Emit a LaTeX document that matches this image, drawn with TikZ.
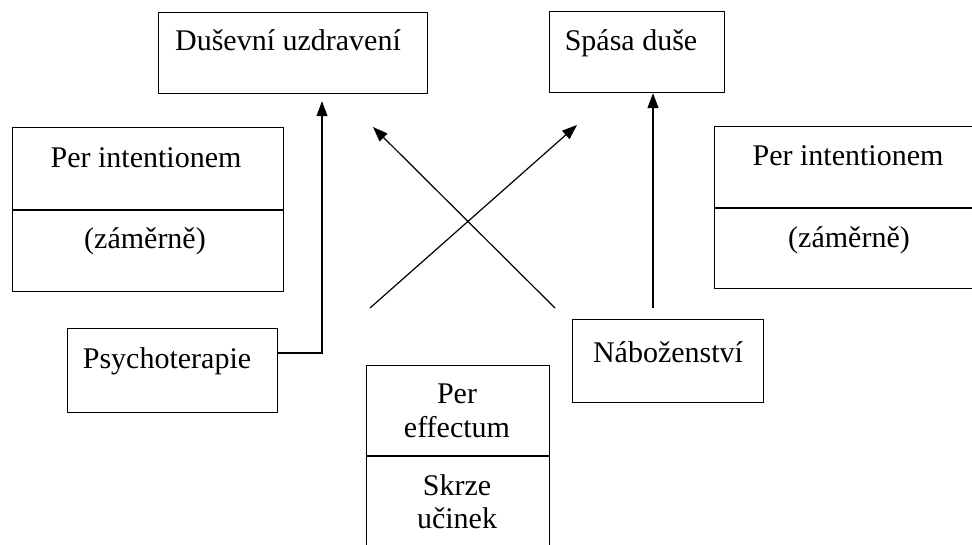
\documentclass[tikz,border=0pt]{standalone}
\usepackage{fontspec}
\setmainfont{Liberation Serif}
\usetikzlibrary{arrows.meta}
\begin{document}
\begin{tikzpicture}[x=1pt,y=-1pt,
  box/.style={draw, line width=1.2pt, rectangle, inner sep=0pt, anchor=north west},
  lbl/.style={anchor=base, inner sep=0pt, font=\fontsize{30}{34}\selectfont},
  divline/.style={line width=1.2pt},
  conn/.style={line width=1.2pt, -{Triangle[width=11pt,length=15pt]}}]
\useasboundingbox (0,0) rectangle (972,544);

% boxes
\node[box, minimum width=269pt, minimum height=81pt] (dus) at (158,12) {};
\node[box, minimum width=175pt, minimum height=81pt] (spa) at (549,11) {};
\node[box, minimum width=271pt, minimum height=164pt] (lpi) at (12,127) {};
\node[box, minimum width=300pt, minimum height=162pt] (rpi) at (714,126) {};
\node[box, minimum width=210pt, minimum height=84pt] (psy) at (67,328) {};
\node[box, minimum width=191pt, minimum height=83pt] (nab) at (572,319) {};
\node[box, minimum width=183pt, minimum height=200pt] (eff) at (366,365) {};

% dividers
\draw[divline] (lpi.west |- 0,210) -- (lpi.east |- 0,210);
\draw[divline] (rpi.west |- 0,208) -- (rpi.east |- 0,208);
\draw[divline] (eff.west |- 0,456) -- (eff.east |- 0,456);

% labels
\node[lbl] (tdus) at (288,50) {Duševní uzdravení};
\node[lbl] (tspa) at (631,50) {Spása duše};
\node[lbl] (tlpi1) at (146,167) {Per intentionem};
\node[lbl] (tlpi2) at (145,248) {(záměrně)};
\node[lbl] (trpi1) at (848,165) {Per intentionem};
\node[lbl] (trpi2) at (849,247) {(záměrně)};
\node[lbl] (tpsy) at (167,368) {Psychoterapie};
\node[lbl] (tnab) at (668,362) {Náboženství};
\node[lbl] (teff1) at (457,403) {Per};
\node[lbl] (teff2) at (457,437) {effectum};
\node[lbl] (teff3) at (457,495) {Skrze};
\node[lbl] (teff4) at (457,528) {učinek};

% connectors
\coordinate (pc) at (322,353);
\draw[conn, shorten >=7pt] (psy.east |- pc) -| (dus.south -| pc);
\coordinate (nc) at (653,308);
\draw[conn] (nc) -- (nc |- spa.south);
\coordinate (a1) at (370,308);
\coordinate (a2) at (577,125);
\coordinate (b1) at (555,308);
\coordinate (b2) at (373,127);
\draw[conn] (a1) -- (a2);
\draw[conn] (b1) -- (b2);
\end{tikzpicture}
\end{document}
